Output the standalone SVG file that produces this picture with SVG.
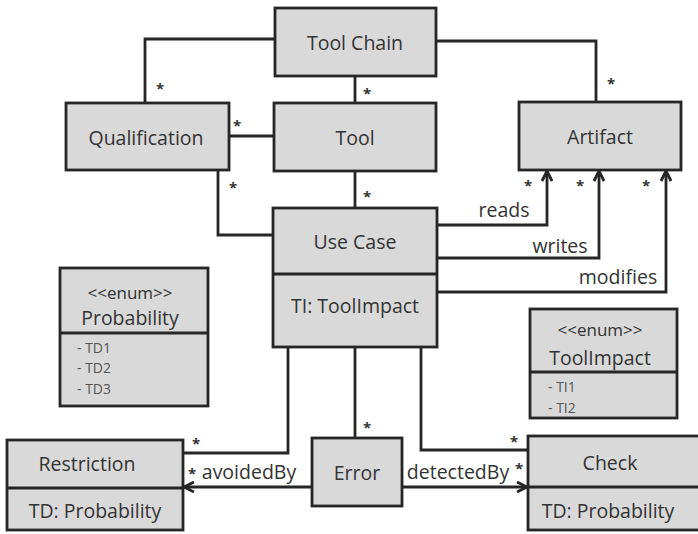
<svg xmlns="http://www.w3.org/2000/svg" width="698" height="534" viewBox="0 0 698 534">
<defs>
<style>
.box{fill:#d9d9d9;stroke:#262626;stroke-width:2.8}
.ln{fill:none;stroke:#262626;stroke-width:2.8}
.t{font-family:"Open Sans","DejaVu Sans",sans-serif;font-size:19.5px;fill:#333;text-anchor:middle;dominant-baseline:central}
.e{font-family:"Open Sans","DejaVu Sans",sans-serif;font-size:17px;fill:#333;text-anchor:middle;dominant-baseline:central}
.s{font-family:"Open Sans","DejaVu Sans",sans-serif;font-size:14px;fill:#555;dominant-baseline:central}
.lbl{font-family:"Open Sans","DejaVu Sans",sans-serif;font-size:19.5px;fill:#333;text-anchor:middle;dominant-baseline:central}
.st{font-family:"Open Sans","DejaVu Sans",sans-serif;font-size:15px;font-weight:bold;fill:#333;text-anchor:middle;dominant-baseline:central}
</style>
<marker id="arr" viewBox="0 0 12 12" refX="11" refY="6" markerWidth="12" markerHeight="12" markerUnits="userSpaceOnUse" orient="auto">
<path d="M1,1 L11,6 L1,11" fill="none" stroke="#262626" stroke-width="2.8"/>
</marker>
</defs>
<rect width="698" height="534" fill="#ffffff"/>
<g id="connectors">
<polyline class="ln" points="275,39 145,39 145,103"/>
<polyline class="ln" points="436,41 596,41 596,102"/>
<line class="ln" x1="355" y1="76" x2="355" y2="103"/>
<line class="ln" x1="229" y1="136" x2="274" y2="136"/>
<polyline class="ln" points="218,170 218,235 273,235"/>
<line class="ln" x1="355" y1="171" x2="355" y2="208"/>
<polyline class="ln" points="437,225 547,225 547,171" marker-end="url(#arr)"/>
<polyline class="ln" points="437,258 599,258 599,171" marker-end="url(#arr)"/>
<polyline class="ln" points="437,292 666,292 666,171" marker-end="url(#arr)"/>
<polyline class="ln" points="288,347 288,453 183,453"/>
<line class="ln" x1="355" y1="347" x2="355" y2="438"/>
<polyline class="ln" points="421,347 421,450 528,450"/>
<line class="ln" x1="312" y1="487" x2="184" y2="487" marker-end="url(#arr)"/>
<line class="ln" x1="402" y1="487" x2="527" y2="487" marker-end="url(#arr)"/>
<text class="st" x="160" y="88">*</text>
<text class="st" x="611" y="83">*</text>
<text class="st" x="367" y="93">*</text>
<text class="st" x="237" y="125">*</text>
<text class="st" x="233" y="187">*</text>
<text class="st" x="367" y="196">*</text>
<text class="st" x="528" y="185">*</text>
<text class="st" x="580" y="185">*</text>
<text class="st" x="646" y="185">*</text>
<text class="st" x="196" y="443">*</text>
<text class="st" x="367" y="427">*</text>
<text class="st" x="514" y="441">*</text>
<text class="st" x="192" y="473">*</text>
<text class="st" x="519" y="468">*</text>
<text class="lbl" x="504" y="209">reads</text>
<text class="lbl" x="560" y="245">writes</text>
<text class="lbl" x="618" y="276">modifies</text>
<text class="lbl" x="249" y="471">avoidedBy</text>
<text class="lbl" x="458" y="471">detectedBy</text>
</g>
<g id="toolchain">
<rect class="box" x="275" y="8" width="161" height="68"/>
<text class="t" x="355" y="42">Tool Chain</text>
</g>
<g id="tool">
<rect class="box" x="274" y="103" width="162" height="68"/>
<text class="t" x="355" y="137">Tool</text>
</g>
<g id="qualification">
<rect class="box" x="66" y="103" width="163" height="67"/>
<text class="t" x="146" y="137">Qualification</text>
</g>
<g id="artifact">
<rect class="box" x="519" y="102" width="162" height="68"/>
<text class="t" x="600" y="136">Artifact</text>
</g>
<g id="usecase">
<rect class="box" x="273" y="208" width="164" height="139"/>
<line class="ln" x1="273" y1="274" x2="437" y2="274"/>
<text class="t" x="355" y="241">Use Case</text>
<text class="t" x="355" y="305">TI: ToolImpact</text>
</g>
<g id="probability">
<rect class="box" x="60" y="268" width="148" height="138"/>
<line class="ln" x1="60" y1="333" x2="208" y2="333"/>
<text class="e" x="130" y="292">&lt;&lt;enum&gt;&gt;</text>
<text class="t" x="130" y="317">Probability</text>
<text class="s" x="77" y="347">- TD1</text>
<text class="s" x="77" y="367">- TD2</text>
<text class="s" x="77" y="388">- TD3</text>
</g>
<g id="toolimpact">
<rect class="box" x="530" y="309" width="147" height="109"/>
<line class="ln" x1="530" y1="372" x2="677" y2="372"/>
<text class="e" x="600" y="329">&lt;&lt;enum&gt;&gt;</text>
<text class="t" x="600" y="357">ToolImpact</text>
<text class="s" x="548" y="386">- TI1</text>
<text class="s" x="548" y="407">- TI2</text>
</g>
<g id="restriction">
<rect class="box" x="7" y="440" width="176" height="90"/>
<line class="ln" x1="7" y1="488" x2="183" y2="488"/>
<text class="t" x="87" y="463">Restriction</text>
<text class="t" x="95" y="510">TD: Probability</text>
</g>
<g id="error">
<rect class="box" x="312" y="438" width="90" height="68"/>
<text class="t" x="357" y="472">Error</text>
</g>
<g id="check">
<rect class="box" x="528" y="436" width="172" height="94"/>
<line class="ln" x1="528" y1="487" x2="700" y2="487"/>
<text class="t" x="610" y="462">Check</text>
<text class="t" x="608" y="510">TD: Probability</text>
</g>
</svg>
